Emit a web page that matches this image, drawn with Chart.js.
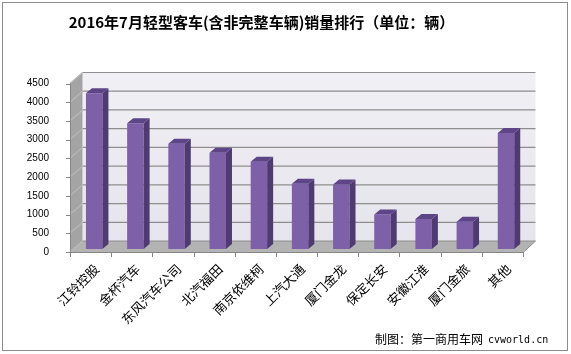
<!DOCTYPE html>
<html>
<head>
<meta charset="utf-8">
<script src="https://cdn.jsdelivr.net/npm/chart.js@4/dist/chart.umd.min.js"></script>
<style>
  html, body { margin: 0; padding: 0; background: #fff; }
  #wrap { width: 571px; height: 354px; position: relative; }
</style>
</head>
<body>
<div id="wrap"><canvas id="myChart" width="571" height="354"></canvas></div>
<script>
const categories = ['江铃控股', '金杯汽车', '东风汽车公司', '北汽福田', '南京依维柯', '上汽大通',
  '厦门金龙', '保定长安', '安徽江淮', '厦门金旅', '其他'];
const sales = [4160, 3360, 2810, 2570, 2330, 1740, 1720, 920, 800, 730, 3100];
const yTicks = [0, 500, 1000, 1500, 2000, 2500, 3000, 3500, 4000, 4500];

// depth of the fake 3d box and where the bars sit inside it
const DX = 12.5, DY = -11;
const BAR_OFF_X = 3.6, BAR_OFF_Y = -3;
const BAR_DX = 6, BAR_DY = -5;

const box3d = {
  id: 'box3d',
  beforeDraw(chart) {
    const c = chart.ctx;
    c.save();
    c.fillStyle = '#fff';
    c.fillRect(0, 0, chart.width, chart.height);
    c.strokeStyle = '#8c8c8c';
    c.lineWidth = 1;
    c.strokeRect(2.5, 2.5, 565, 348);
    c.restore();
  },
  beforeDatasetsDraw(chart) {
    const c = chart.ctx;
    const x = chart.scales.x, y = chart.scales.y;
    const l = x.left, r = x.right, b = y.getPixelForValue(0), t = y.getPixelForValue(4500);
    c.save();
    // back wall
    const g = c.createLinearGradient(0, t + DY, 0, b + DY);
    g.addColorStop(0, '#f1f0f4');
    g.addColorStop(1, '#e6e4ec');
    c.fillStyle = g;
    c.fillRect(l + DX, t + DY, r - l, b - t);
    // side wall
    c.fillStyle = '#a4a4a4';
    c.beginPath();
    c.moveTo(l, t); c.lineTo(l + DX, t + DY); c.lineTo(l + DX, b + DY); c.lineTo(l, b);
    c.closePath(); c.fill();
    // floor
    c.fillStyle = '#b3b3b3';
    c.beginPath();
    c.moveTo(l, b); c.lineTo(l + DX, b + DY); c.lineTo(r + DX, b + DY); c.lineTo(r, b);
    c.closePath(); c.fill();
    // grid lines on back and side walls
    c.lineWidth = 1.2;
    yTicks.forEach(v => {
      const py = y.getPixelForValue(v);
      c.strokeStyle = '#8e8e8e';
      c.beginPath();
      c.moveTo(l + DX, py + DY); c.lineTo(r + DX, py + DY);
      c.stroke();
      c.strokeStyle = '#b8b8b8';
      c.beginPath();
      c.moveTo(l, py); c.lineTo(l + DX, py + DY);
      c.stroke();
    });
    // front axes
    c.strokeStyle = '#868686';
    c.lineWidth = 1;
    c.beginPath();
    c.moveTo(l + 0.5, t); c.lineTo(l + 0.5, b + 0.5); c.lineTo(r, b + 0.5);
    c.lineTo(r + DX, b + DY);
    c.stroke();
    const w = (r - l) / categories.length;
    c.beginPath();
    for (let i = 0; i <= categories.length; i++) {
      const px = Math.round(l + i * w) + 0.5;
      c.moveTo(px, b); c.lineTo(px, b + 5);
    }
    yTicks.forEach(v => {
      const py = Math.round(y.getPixelForValue(v)) + 0.5;
      c.moveTo(l - 4, py); c.lineTo(l, py);
    });
    c.stroke();
    c.restore();
    // bars are drawn a bit into the box
    c.save();
    c.translate(BAR_OFF_X, BAR_OFF_Y);
  },
  afterDatasetsDraw(chart) {
    const c = chart.ctx;
    chart.getDatasetMeta(0).data.forEach(bar => {
      const p = bar.getProps(['x', 'y', 'base', 'width']);
      const x1 = p.x - p.width / 2, x2 = p.x + p.width / 2;
      c.fillStyle = '#4f3a72';
      c.beginPath();
      c.moveTo(x2, p.y); c.lineTo(x2 + BAR_DX, p.y + BAR_DY);
      c.lineTo(x2 + BAR_DX, p.base + BAR_DY); c.lineTo(x2, p.base);
      c.closePath(); c.fill();
      c.fillStyle = '#5d4587';
      c.beginPath();
      c.moveTo(x1, p.y); c.lineTo(x1 + BAR_DX, p.y + BAR_DY);
      c.lineTo(x2 + BAR_DX, p.y + BAR_DY); c.lineTo(x2, p.y);
      c.closePath(); c.fill();
    });
    c.restore();
  },
  afterDraw(chart) {
    const c = chart.ctx;
    c.save();
    c.fillStyle = '#000';
    c.textBaseline = 'middle';
    c.font = '12px "Noto Sans CJK SC"';
    c.fillText('制图：第一商用车网', 375, 339);
    c.font = '10px "DejaVu Sans Mono"';
    c.fillText('cvworld.cn', 488, 340);
    c.restore();
  }
};

const ctx = document.getElementById('myChart').getContext('2d');
const myChart = new Chart(ctx, {
  type: 'bar',
  data: {
    labels: categories,
    datasets: [{
      data: sales,
      backgroundColor: '#7e60a8',
      borderWidth: 0,
      categoryPercentage: 1,
      barPercentage: 0.4
    }]
  },
  options: {
    responsive: false,
    animation: false,
    layout: { padding: { left: 0, right: 48, top: 0, bottom: 0 } },
    plugins: {
      legend: { display: false },
      tooltip: { enabled: false },
      title: {
        display: true,
        text: '2016年7月轻型客车(含非完整车辆)销量排行（单位：辆）',
        color: '#000',
        font: { family: '"Noto Sans CJK SC"', size: 15, weight: 'bold', lineHeight: 1.2 },
        padding: { top: 13, bottom: 52.5 }
      }
    },
    scales: {
      x: {
        grid: { display: false, drawTicks: false },
        border: { display: false },
        ticks: {
          color: '#000',
          font: { family: '"Noto Sans CJK SC"', size: 13 },
          minRotation: 45,
          maxRotation: 45,
          padding: 9,
          labelOffset: 6
        },
        afterFit(scale) { scale.height = 102; }
      },
      y: {
        min: 0,
        max: 4500,
        grid: { display: false, drawTicks: false },
        border: { display: false },
        ticks: {
          stepSize: 500,
          color: '#000',
          font: { family: '"Liberation Sans"', size: 10 },
          padding: 21,
          callback: v => String(v)
        },
        afterFit(scale) { scale.width = 70; }
      }
    }
  },
  plugins: [box3d]
});
</script>
</body>
</html>
